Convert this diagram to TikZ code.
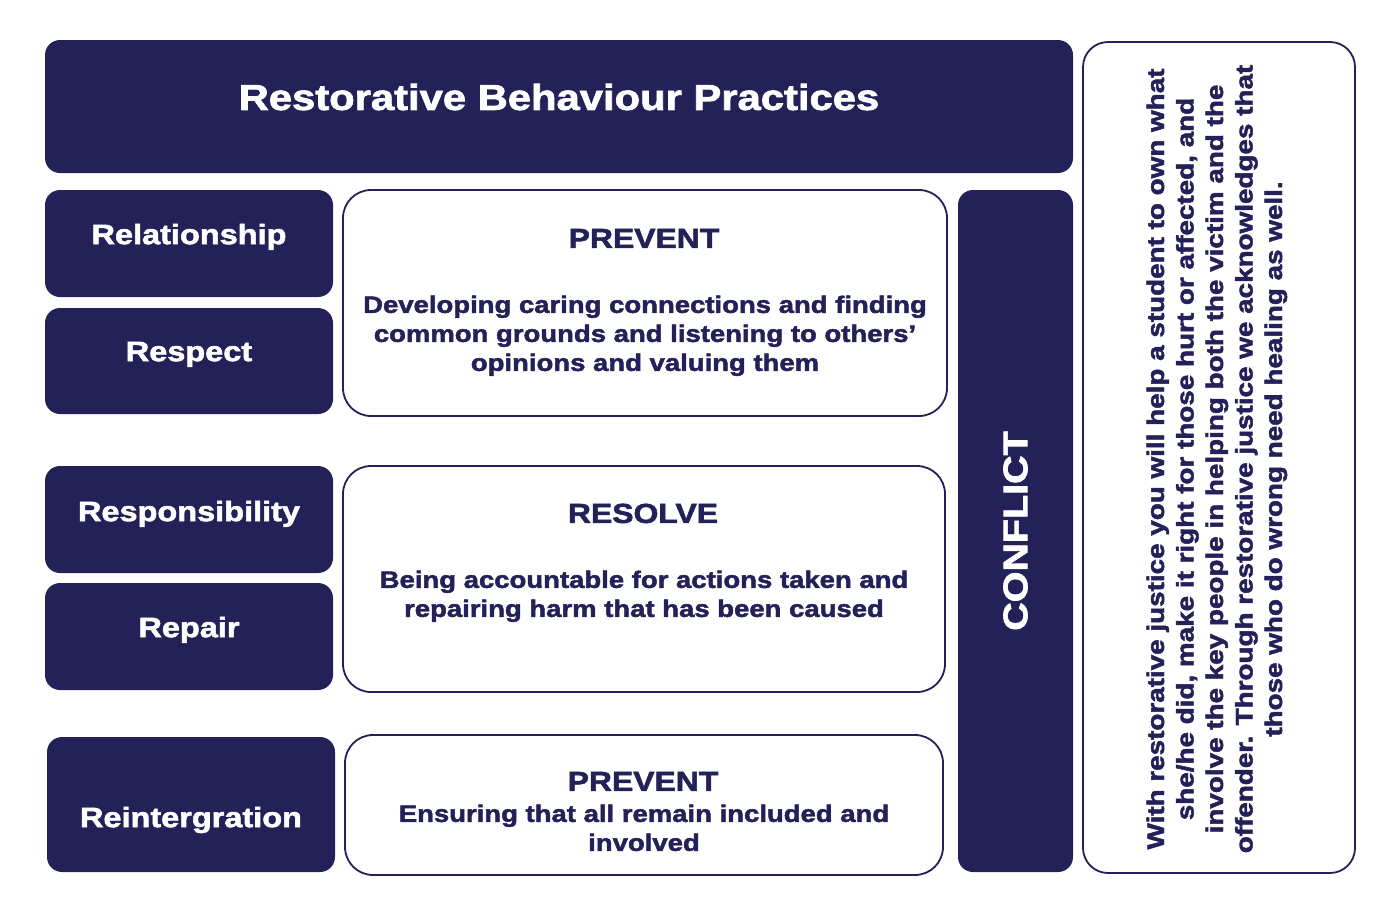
\documentclass[tikz,border=0pt]{standalone}
\usepackage{fontspec}
\newfontfamily\bk{Liberation Sans}[FakeStretch=1.16, FakeBold=2]
\definecolor{navy}{RGB}{35,33,87}
\begin{document}
\begin{tikzpicture}[x=1pt,y=-1pt,
  navybox/.style={fill=navy, draw=none, rounded corners=15pt, inner sep=0pt},
  whitebox/.style={fill=white, draw=navy, line width=1.8pt, rounded corners=28pt, inner sep=0pt},
  wlabel/.style={text=white, inner sep=0pt, text height=20.2pt, text depth=0pt, font=\bk\bfseries\fontsize{28}{33}\selectfont},
  head/.style={text=navy, inner sep=0pt, text height=19.8pt, text depth=0pt, font=\bk\bfseries\fontsize{27.5}{33}\selectfont},
  body/.style={text=navy, inner sep=0pt, align=center, anchor=north, font=\bk\bfseries\fontsize{23.7}{29}\selectfont}
]
\useasboundingbox (0,0) rectangle (1376,916);
\fill[white] (0,0) rectangle (1376,916);

% boxes
\node[navybox, minimum width=1028pt, minimum height=133pt] (title) at (559,106.5) {};
\node[whitebox, rounded corners=25pt, minimum width=272pt, minimum height=831pt] (side) at (1219,457.5) {};
\node[navybox, minimum width=288pt, minimum height=107pt] (rel) at (189,243.5) {};
\node[navybox, minimum width=288pt, minimum height=106pt] (resp) at (189,361) {};
\node[navybox, minimum width=288pt, minimum height=107pt] (respons) at (189,519.5) {};
\node[navybox, minimum width=288pt, minimum height=107pt] (repair) at (189,636.5) {};
\node[navybox, minimum width=288pt, minimum height=135pt] (reint) at (191,804.5) {};
\node[whitebox, minimum width=604pt, minimum height=226pt] (prevA) at (645,303) {};
\node[whitebox, minimum width=602pt, minimum height=226pt] (resolve) at (644,579) {};
\node[whitebox, minimum width=598pt, minimum height=140pt] (prevB) at (644,805) {};
\node[navybox, minimum width=115pt, minimum height=682pt] (conflict) at (1015.5,531) {};

% texts
\node[wlabel, text height=25.8pt, font=\bk\bfseries\fontsize{36}{40}\selectfont] (titleT) at (559,97) {Restorative Behaviour Practices};
\node[wlabel] (relT) at (189,234) {Relationship};
\node[wlabel] (respT) at (189,351) {Respect};
\node[wlabel] (responsT) at (189,511) {Responsibility};
\node[wlabel] (repairT) at (189,627) {Repair};
\node[wlabel] (reintT) at (191,817) {Reintergration};

\node[head] (prevAH) at (644,238) {PREVENT};
\node[body] (prevAT) at (645,295.5) {Developing caring connections and finding\\common grounds and listening to others’\\opinions and valuing them};

\node[head] (resolveH) at (643,513) {RESOLVE};
\node[body] (resolveT) at (644,570.5) {Being accountable for actions taken and\\repairing harm that has been caused};

\node[head] (prevBH) at (643,781) {PREVENT};
\node[body] (prevBT) at (644,804.5) {Ensuring that all remain included and\\involved};

\node[wlabel, rotate=90, text height=24.4pt, font=\bk\bfseries\fontsize{34}{38}\selectfont] (conflictT) at (1015,531) {CONFLICT};

\node[body, rotate=90, font=\bk\bfseries\fontsize{24}{29.5}\selectfont] (sideT) at (1146.4,459) {With restorative justice you will help a student to own what\\she/he did, make it right for those hurt or affected, and\\involve the key people in helping both the victim and the\\offender. Through restorative justice we acknowledges that\\those who do wrong need healing as well.};
\end{tikzpicture}
\end{document}
